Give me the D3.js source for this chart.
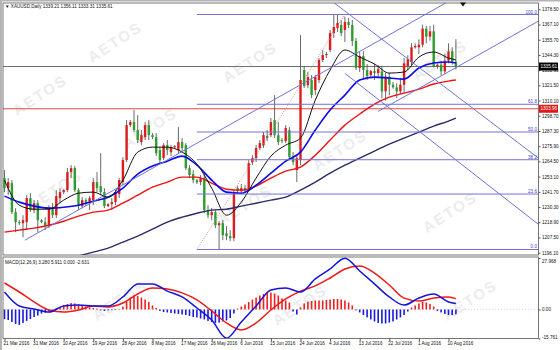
<!DOCTYPE html>
<html>
<head>
<meta charset="utf-8">
<script src="https://cdnjs.cloudflare.com/ajax/libs/d3/7.8.5/d3.min.js"></script>
<style>
  body { margin: 0; background: #fff; }
  svg { display: block; }
  text { font-family: "Liberation Sans", Arial, sans-serif; }
</style>
</head>
<body>
<div id="chart"></div>
<script>
// daily XAUUSD bars, 21 Mar 2016 .. 12 Aug 2016 (index = bar number)
const opens = [1252.0,1244.5,1248.2,1226.5,1219.0,1218.2,1219.0,1237.0,1228.0,1233.2,
  1220.5,1219.0,1216.0,1229.5,1224.2,1237.0,1241.5,1243.0,1256.5,1259.5,
  1243.0,1231.0,1235.5,1233.2,1235.5,1249.0,1246.0,1241.5,1231.0,1232.5,
  1234.0,1240.0,1249.0,1265.5,1291.7,1294.0,1288.0,1279.0,1282.7,1291.7,
  1284.2,1282.7,1273.0,1267.0,1276.7,1271.5,1275.2,1273.0,1279.0,1276.7,
  1259.5,1255.0,1250.5,1249.0,1252.0,1228.0,1224.2,1226.5,1216.7,1218.2,
  1210.7,1208.5,1207.0,1244.5,1242.2,1244.5,1244.5,1264.0,1267.0,1274.5,
  1276.7,1283.5,1284.2,1295.5,1284.2,1280.5,1279.7,1288.0,1267.7,1258.0,
  1265.5,1333.0,1321.7,1325.5,1318.0,1325.5,1340.5,1344.2,1348.0,1360.7,
  1364.5,1366.7,1363.0,1369.0,1366.7,1354.7,1334.5,1343.5,1333.0,1329.2,
  1332.2,1330.7,1332.0,1317.0,1328.0,1322.0,1320.0,1317.0,1322.0,1336.0,
  1339.0,1350.0,1350.0,1352.0,1364.0,1358.0,1362.0,1336.0,1337.0,1332.0,
  1340.0,1347.0,1339.21]
const highs = [1258.0,1252.0,1250.5,1229.5,1220.5,1224.2,1239.2,1240.7,1235.5,1235.5,
  1221.2,1222.7,1231.7,1233.2,1243.0,1244.5,1243.7,1259.5,1261.7,1261.0,
  1244.5,1237.7,1237.0,1238.5,1252.0,1256.5,1270.7,1244.5,1233.2,1237.0,
  1243.0,1252.0,1267.7,1295.5,1295.5,1303.0,1299.2,1288.0,1294.0,1295.5,
  1285.7,1285.7,1275.2,1278.2,1280.5,1276.7,1276.7,1290.2,1282.0,1278.2,
  1261.7,1258.0,1251.2,1254.2,1255.7,1231.7,1229.5,1228.0,1219.7,1220.5,
  1216.0,1213.0,1243.7,1246.0,1247.5,1246.7,1265.5,1269.2,1276.7,1280.5,
  1286.5,1288.0,1297.0,1314.2,1294.0,1282.0,1291.7,1290.2,1271.5,1269.2,
  1359.2,1336.0,1331.5,1329.2,1329.2,1342.0,1348.0,1346.5,1363.0,1374.2,
  1374.6,1370.5,1373.0,1372.0,1370.5,1357.0,1346.5,1347.2,1337.5,1333.0,
  1337.5,1336.7,1336.0,1331.0,1331.0,1324.0,1323.0,1327.0,1342.0,1344.0,
  1353.0,1353.0,1356.0,1367.0,1366.0,1366.0,1367.0,1338.0,1340.0,1345.0,
  1353.0,1350.0,1356.11]
const lows = [1241.5,1239.2,1225.0,1211.5,1216.7,1207.7,1213.0,1226.5,1225.7,1211.5,
  1218.2,1213.0,1214.5,1222.0,1222.0,1233.2,1240.0,1241.5,1252.0,1241.5,
  1228.0,1229.5,1231.0,1228.0,1231.7,1241.5,1239.2,1229.5,1230.2,1228.0,
  1231.7,1237.0,1246.7,1264.0,1290.2,1286.5,1278.2,1276.7,1280.5,1280.5,
  1281.2,1268.5,1263.2,1265.5,1269.2,1268.5,1273.7,1270.7,1271.5,1258.0,
  1252.0,1248.2,1247.5,1246.7,1225.7,1222.0,1220.5,1214.5,1198.5,1205.5,
  1205.5,1204.7,1204.7,1240.7,1240.0,1240.7,1243.0,1261.7,1264.0,1273.0,
  1274.5,1279.7,1282.7,1282.0,1276.7,1278.2,1278.2,1265.5,1261.7,1249.0,
  1261.7,1319.5,1319.5,1312.0,1314.2,1323.2,1339.0,1342.0,1346.5,1357.0,
  1361.5,1358.5,1354.0,1364.5,1351.0,1333.0,1331.5,1327.0,1325.5,1327.7,
  1325.5,1327.0,1312.0,1310.0,1314.0,1319.0,1312.0,1315.0,1316.0,1333.0,
  1336.0,1349.0,1345.0,1350.0,1353.0,1355.0,1335.0,1334.0,1329.0,1330.0,
  1338.0,1337.0,1333.31]
const closes = [1244.5,1249.0,1226.5,1219.0,1218.2,1220.5,1237.0,1228.0,1233.2,1220.5,
  1219.0,1216.0,1229.5,1224.2,1238.5,1241.5,1243.0,1256.5,1259.5,1243.0,
  1231.0,1235.5,1233.2,1237.0,1249.0,1244.5,1241.5,1231.0,1232.5,1234.0,
  1241.5,1250.5,1265.5,1291.7,1294.0,1288.0,1280.5,1284.2,1291.7,1284.2,
  1282.7,1270.7,1265.5,1276.7,1273.0,1275.2,1276.0,1279.0,1274.5,1259.5,
  1254.2,1250.5,1249.0,1252.0,1228.0,1224.2,1226.5,1216.7,1218.2,1209.2,
  1208.5,1207.0,1241.5,1242.2,1244.5,1243.0,1263.2,1267.0,1274.5,1278.2,
  1284.2,1282.0,1294.0,1284.2,1279.0,1279.7,1289.5,1267.7,1264.0,1267.0,
  1325.5,1321.0,1327.7,1314.2,1327.7,1340.5,1344.2,1345.0,1360.7,1365.2,
  1368.2,1360.7,1369.0,1366.7,1354.7,1334.5,1343.5,1333.0,1328.5,1332.2,
  1330.7,1333.7,1317.0,1328.0,1322.0,1320.0,1317.0,1322.0,1338.0,1341.0,
  1350.0,1351.0,1352.0,1364.0,1358.0,1362.0,1335.5,1337.0,1332.0,1340.0,
  1347.0,1339.2,1335.61]

// moving averages and MACD
const maBars = [0,4,8,12,16,20,24,28,32,36,40,44,48,52,56,60,64,68,72,76,80,84,88,92,96,100,104,108,112,116,120,122]
const maBlack = [1250.5,1231.7,1228.7,1228.7,1235.5,1240.7,1241.5,1237.7,1250.5,1271.5,
  1275.2,1275.2,1271.5,1262.5,1244.5,1224.2,1234.0,1252.0,1268.5,1276.7,
  1282.0,1310.5,1333.0,1348.0,1342.7,1337.5,1330.7,1331.5,1342.7,1346.5,1342.0,1340.5]
const maBlue = [1238.5,1234.0,1231.0,1229.5,1230.2,1231.7,1234.7,1237.7,1244.5,1255.0,
  1261.0,1264.7,1268.5,1261.7,1250.5,1241.5,1240.7,1246.7,1255.7,1264.7,
  1271.5,1288.0,1303.0,1314.2,1325.5,1327.7,1327.0,1326.2,1334.5,1338.2,1339.0,1338.2]
const maRed = [1211.5,1213.0,1214.5,1216.7,1219.7,1223.5,1226.5,1228.0,1233.2,1239.2,
  1245.2,1249.0,1252.7,1252.7,1248.2,1243.7,1243.0,1246.0,1252.0,1257.2,
  1260.2,1269.2,1280.5,1291.7,1300.0,1307.5,1312.7,1315.7,1318.7,1322.5,1324.7,1325.5]
const maNavy = [null,null,null,null,1189.0,1193.5,1196.5,1199.5,1204.0,1208.5,
  1213.7,1219.0,1222.7,1225.7,1228.0,1228.7,1231.0,1233.2,1235.5,1237.7,
  1243.0,1249.0,1255.7,1261.7,1267.0,1272.2,1277.5,1282.0,1286.5,1291.0,1294.7,1297.0]
const macdMain = [9.5,1.9,0.3,-1.4,1.9,2.4,1.9,1.9,6.8,13.9,
  13.9,10.0,6.8,0.8,-5.7,-15.6,-6.8,1.9,10.6,11.7,
  9.5,16.6,22.0,27.8,20.9,13.9,6.8,2.4,6.2,8.4,4.1,3.28]
const macdSignal = [14.4,9.5,4.1,-0.3,-1.4,-0.3,1.9,1.4,3.5,8.4,
  11.7,11.1,9.0,5.2,-0.8,-7.3,-11.1,-7.3,-0.3,5.7,
  10.0,12.8,17.1,22.0,23.6,19.8,13.3,6.2,4.6,6.2,6.8,5.911]
const macdHist = [-5.2,-5.7,-6.8,-7.9,-8.4,-7.3,-6.2,-5.2,-4.1,-3.3,
  -2.2,-1.6,-1.1,-0.8,0.5,1.4,2.2,3.0,3.5,3.3,
  2.7,2.2,1.6,1.1,0.8,0.5,-0.5,-0.8,-0.5,-0.3,
  -0.3,0.3,1.6,4.3,6.5,7.6,7.3,6.5,5.4,4.1,
  2.2,0.8,-0.8,-1.4,-1.6,-1.9,-2.2,-2.4,-2.7,-3.0,
  -3.5,-4.1,-4.3,-4.9,-5.4,-6.2,-6.8,-7.3,-7.1,-6.5,
  -6.0,-4.6,-2.2,0.5,1.6,2.7,4.1,5.4,6.5,7.6,
  8.4,9.0,9.2,8.7,7.6,6.0,4.9,3.8,-1.1,-2.7,
  1.1,3.3,4.3,4.6,4.9,4.9,4.9,5.2,5.4,5.7,
  5.7,5.4,4.9,3.8,2.2,-0.5,-1.6,-3.0,-4.3,-5.4,
  -6.5,-7.3,-7.6,-7.6,-7.1,-6.5,-5.4,-4.3,-3.0,-1.1,
  1.1,2.2,3.3,4.1,3.8,3.0,1.6,-0.8,-1.6,-2.4,
  -3.0,-3.0,-2.631]

const priceTicks = [1378.50,1367.10,1355.70,1344.30,1332.90,1321.50,1310.10,1298.70,1287.30,
  1275.90,1264.50,1253.10,1241.70,1230.30,1218.90,1207.50,1196.10]
const macdTicks = [27.968, 0, -15.761]
const macdTickLabels = ["27.968", "0.00", "-15.761"]
const dateBars = [0,8,16,24,32,40,48,56,64,72,80,88,96,104,112,120]
const dateLabels = ["21 Mar 2016","31 Mar 2016","10 Apr 2016","19 Apr 2016","28 Apr 2016","8 May 2016",
  "17 May 2016","26 May 2016","6 Jun 2016","15 Jun 2016","24 Jun 2016","4 Jul 2016",
  "13 Jul 2016","22 Jul 2016","1 Aug 2016","10 Aug 2016"]

const fibRatios = [0, 0.236, 0.382, 0.5, 0.618, 1]
const fibNames = ["0.0", "23.6", "38.2", "50.0", "61.8", "100.0"]
const fibLow = 1198.5, fibHigh = 1374.6
const fibBars = [52, 92]

// trend / channel lines: [bar, price] anchor pairs, drawn as rays to the right
const trendLines = [
  [[5.5, 1205.5], [101.5, 1355.5]],
  [[101, 1302.0], [143.9, 1369.0]],
  [[89, 1383.5], [143.9, 1267.8]],
  [[92, 1330.5], [143.9, 1218.2]]
]
const lastPrice = 1335.61
const redLevel = 1303.96

// watermark centres (picture pixels)
const wmSpots = [[115,42],[250,62],[150,128],[340,150],[55,190],[440,60],[245,205],
  [450,212],[120,300],[300,305],[470,300],[40,95]]

const W = 560, H = 350
const LEFT = 3, RIGHT = 538.5
const MAIN_TOP = 3, MAIN_BOTTOM = 255
const SUB_TOP = 257, SUB_BOTTOM = 338.5

const svg = d3.select("#chart").append("svg")
  .attr("width", W)
  .attr("height", H)

svg.append("rect").attr("width", W).attr("height", H).attr("fill", "#b4b4b4")
svg.append("rect").attr("x", 2).attr("y", 1.5).attr("width", W - 2).attr("height", H - 1.5).attr("fill", "white")

const defs = svg.append("defs")
defs.append("clipPath").attr("id", "clipMain").append("rect")
  .attr("x", LEFT).attr("y", MAIN_TOP).attr("width", RIGHT - LEFT).attr("height", MAIN_BOTTOM - MAIN_TOP)
defs.append("clipPath").attr("id", "clipSub").append("rect")
  .attr("x", LEFT).attr("y", SUB_TOP).attr("width", RIGHT - LEFT).attr("height", SUB_BOTTOM - SUB_TOP)

// watermark
svg.append("g").selectAll("text").data(wmSpots).enter().append("text")
  .attr("transform", d => `translate(${d[0]},${d[1]}) rotate(-33)`)
  .attr("text-anchor", "middle")
  .attr("dy", "0.35em")
  .attr("font-size", 15)
  .attr("font-weight", "bold")
  .attr("letter-spacing", 2)
  .attr("fill", "#ececec")
  .text("AETOS")

const x = d3.scaleLinear().domain([0, 122]).range([4.5, 455.9])
const y = d3.scaleLinear().domain([1196.10, 1378.50]).range([252.7, 9.3])
const ym = d3.scaleLinear().domain([-15.761, 27.968]).range([SUB_BOTTOM, 258])

const main = svg.append("g").attr("clip-path", "url(#clipMain)")
const sub = svg.append("g").attr("clip-path", "url(#clipSub)")

// horizontal price lines
main.append("line")
  .attr("x1", LEFT).attr("x2", RIGHT).attr("y1", y(redLevel)).attr("y2", y(redLevel))
  .attr("stroke", "#e04848").attr("stroke-width", 1)
main.append("line")
  .attr("x1", LEFT).attr("x2", RIGHT).attr("y1", y(lastPrice)).attr("y2", y(lastPrice))
  .attr("stroke", "#6e6e6e").attr("stroke-width", 1)

// candles
const candles = opens.map((o, i) => ({ i: i, o: o, h: highs[i], l: lows[i], c: closes[i] }))
main.selectAll(".wick").data(candles).enter().append("line")
  .attr("x1", d => x(d.i)).attr("x2", d => x(d.i))
  .attr("y1", d => y(d.h)).attr("y2", d => y(d.l))
  .attr("stroke", "#444").attr("stroke-width", 0.8)
main.selectAll(".body").data(candles).enter().append("rect")
  .attr("x", d => x(d.i) - 1.2)
  .attr("width", 2.4)
  .attr("y", d => y(Math.max(d.o, d.c)))
  .attr("height", d => Math.max(0.8, Math.abs(y(d.o) - y(d.c))))
  .attr("fill", d => d.c >= d.o ? "#dd1c1c" : "#2e9e2e")

// moving averages
function maLine(values, color, width) {
  const pts = maBars.map((b, k) => ({ b: b, v: values[k] }))
  main.append("path")
    .datum(pts)
    .attr("d", d3.line()
      .defined(d => d.v != null)
      .x(d => x(d.b))
      .y(d => y(d.v))
      .curve(d3.curveMonotoneX))
    .attr("fill", "none")
    .attr("stroke", color)
    .attr("stroke-width", width)
}
maLine(maNavy, "#2b2b6b", 1.4)
maLine(maRed, "#ee1111", 1.4)
maLine(maBlue, "#0a0af0", 1.6)
maLine(maBlack, "#111", 1)

// fibonacci
const fibColor = "#7272d8"
fibRatios.forEach((r, k) => {
  const p = fibLow + r * (fibHigh - fibLow)
  main.append("line")
    .attr("x1", x(fibBars[0])).attr("x2", RIGHT)
    .attr("y1", y(p)).attr("y2", y(p))
    .attr("stroke", fibColor).attr("stroke-width", 1)
  main.append("text")
    .attr("x", RIGHT - 1.5).attr("y", y(p) - 1)
    .attr("text-anchor", "end")
    .attr("font-size", 4.6)
    .attr("fill", "#4646c0")
    .text(fibNames[k])
})
main.append("line")
  .attr("x1", x(fibBars[0])).attr("y1", y(fibLow))
  .attr("x2", x(fibBars[1])).attr("y2", y(fibHigh))
  .attr("stroke", "#e07878").attr("stroke-width", 0.9)
  .attr("stroke-dasharray", "1,1.5")

// trend rays
const lastBar = x.invert(RIGHT + 2)
trendLines.forEach(t => {
  const slope = (t[1][1] - t[0][1]) / (t[1][0] - t[0][0])
  const endP = t[0][1] + slope * (lastBar - t[0][0])
  main.append("line")
    .attr("x1", x(t[0][0])).attr("y1", y(t[0][1]))
    .attr("x2", x(lastBar)).attr("y2", y(endP))
    .attr("stroke", fibColor).attr("stroke-width", 1)
})

// MACD panel
sub.append("line")
  .attr("x1", LEFT).attr("x2", RIGHT).attr("y1", ym(0)).attr("y2", ym(0))
  .attr("stroke", "#c8c8c8").attr("stroke-width", 0.6).attr("stroke-dasharray", "1,2")
sub.selectAll(".hist").data(macdHist).enter().append("rect")
  .attr("x", (d, i) => x(i) - 0.8)
  .attr("width", 1.6)
  .attr("y", d => Math.min(ym(0), ym(d)))
  .attr("height", d => Math.abs(ym(d) - ym(0)))
  .attr("fill", d => d >= 0 ? "#f02020" : "#1a1ae0")
const macdPts = maBars.map((b, k) => ({ b: b, m: macdMain[k], s: macdSignal[k] }))
sub.append("path").datum(macdPts)
  .attr("d", d3.line().x(d => x(d.b)).y(d => ym(d.s)).curve(d3.curveMonotoneX))
  .attr("fill", "none").attr("stroke", "#f01818").attr("stroke-width", 1.5)
sub.append("path").datum(macdPts)
  .attr("d", d3.line().x(d => x(d.b)).y(d => ym(d.m)).curve(d3.curveMonotoneX))
  .attr("fill", "none").attr("stroke", "#1414d8").attr("stroke-width", 1.5)

// borders
const border = "#555"
svg.append("rect").attr("x", LEFT).attr("y", MAIN_TOP).attr("width", RIGHT - LEFT).attr("height", MAIN_BOTTOM - MAIN_TOP)
  .attr("fill", "none").attr("stroke", border).attr("stroke-width", 0.8)
svg.append("rect").attr("x", LEFT).attr("y", SUB_TOP).attr("width", RIGHT - LEFT).attr("height", SUB_BOTTOM - SUB_TOP)
  .attr("fill", "none").attr("stroke", border).attr("stroke-width", 0.8)

// price axis
const yAxis = svg.append("g")
  .attr("transform", `translate(${RIGHT},0)`)
  .call(d3.axisRight(y).tickValues(priceTicks).tickFormat(d3.format(".2f")).tickSize(2).tickPadding(1.5))
const macdAxis = svg.append("g")
  .attr("transform", `translate(${RIGHT},0)`)
  .call(d3.axisRight(ym).tickValues(macdTicks).tickFormat((d, i) => macdTickLabels[i]).tickSize(2).tickPadding(1.5))
;[yAxis, macdAxis].forEach(a => {
  a.select(".domain").remove()
  a.selectAll("line").attr("stroke", border)
  a.selectAll("text").attr("font-size", 4.6).attr("fill", "#111")
    .attr("font-family", "'Liberation Sans', Arial, sans-serif")
})
macdAxis.selectAll(".tick text").attr("dy", (d, i) => i == 0 ? "0.9em" : (i == 2 ? "0.1em" : "0.32em"))

// date axis
const xAxis = svg.append("g")
  .attr("transform", `translate(0,${SUB_BOTTOM})`)
  .call(d3.axisBottom(x).tickValues(dateBars).tickFormat((d, i) => dateLabels[i]).tickSize(2.5).tickPadding(1))
xAxis.select(".domain").remove()
xAxis.selectAll("line").attr("stroke", border)
xAxis.selectAll("text").attr("font-size", 4.6).attr("fill", "#111")
  .attr("text-anchor", "start").attr("dx", -1.5)
  .attr("font-family", "'Liberation Sans', Arial, sans-serif")

// price labels on axis
function priceTag(p, bg) {
  svg.append("rect")
    .attr("x", RIGHT + 0.5).attr("y", y(p) - 4).attr("width", 19).attr("height", 8)
    .attr("fill", bg)
  svg.append("text")
    .attr("x", RIGHT + 2).attr("y", y(p) + 1.7)
    .attr("font-size", 4.6).attr("fill", "white")
    .text(p.toFixed(2))
}
priceTag(lastPrice, "#000")
priceTag(redLevel, "#e01818")

// header texts
svg.append("text")
  .attr("x", 5).attr("y", 8)
  .attr("font-size", 4.6).attr("fill", "#111")
  .text("\u25BC XAUUSD,Daily  1339.21 1356.11 1333.31 1335.61")
svg.append("text")
  .attr("x", 5).attr("y", 263.5)
  .attr("font-size", 4.6).attr("fill", "#111")
  .text("MACD(12,26,9) 3.280 5.911 0.000 -2.631")

// chart shift marker
svg.append("path")
  .attr("d", d3.line()([[460, 2.5], [466, 2.5], [463, 6.5]]) + "Z")
  .attr("fill", "#111")
</script>
</body>
</html>
